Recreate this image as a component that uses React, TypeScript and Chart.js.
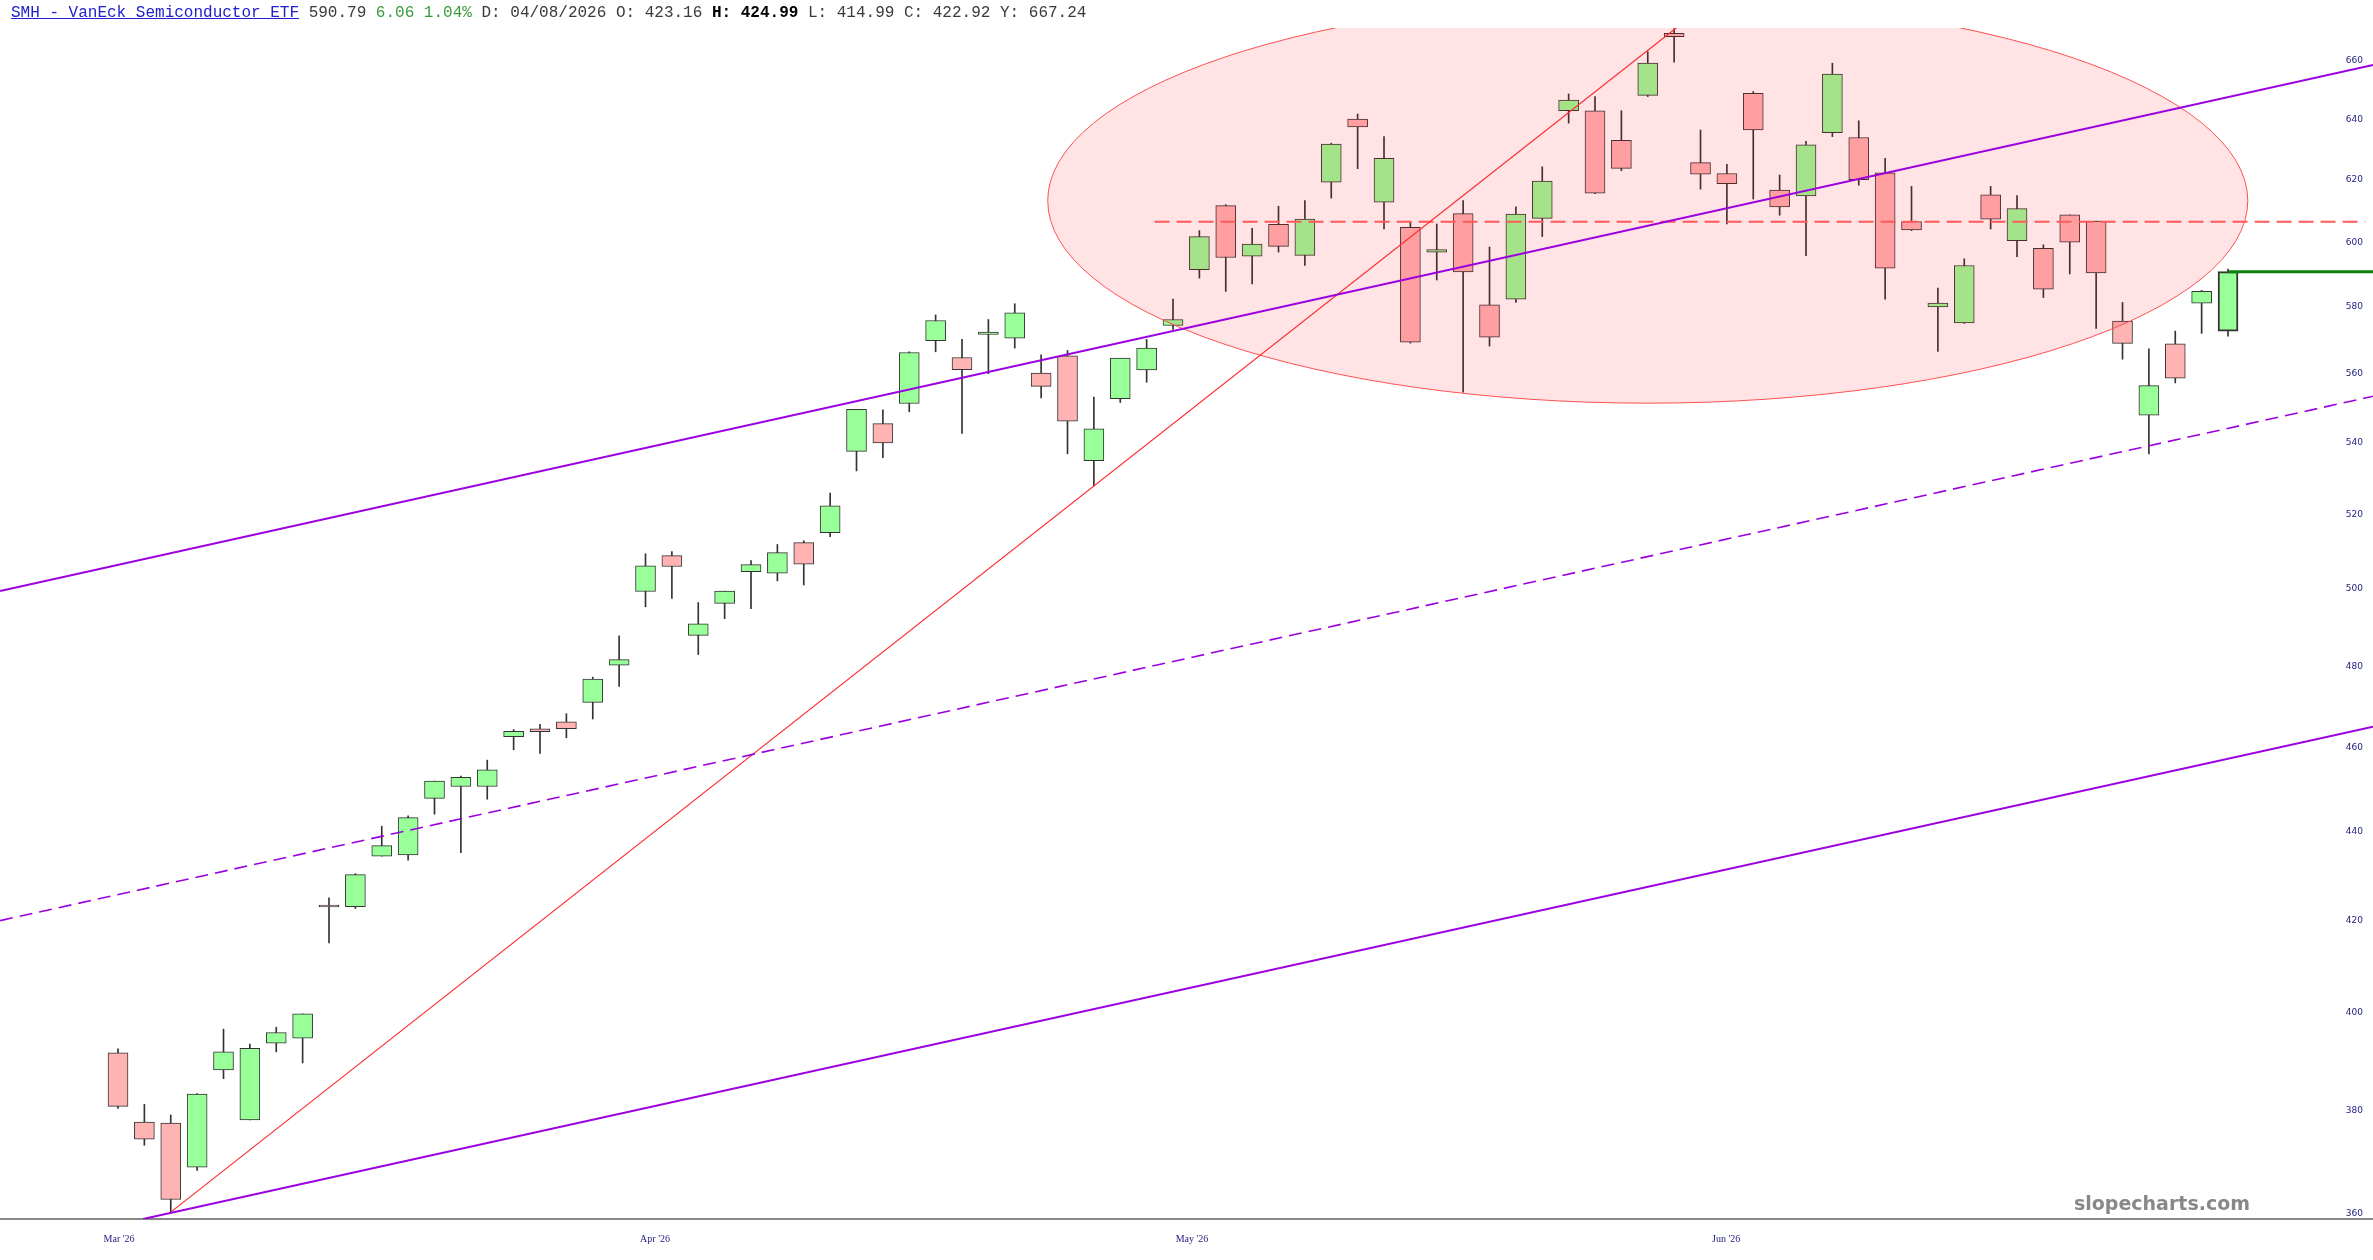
import React, { useEffect, useRef } from 'react';
import { Chart, registerables } from 'chart.js';

Chart.register(...registerables);

// daily OHLC (one entry per candle, left to right)
const opens = [
  391.7, 377.7, 377.5, 368.8, 388.2, 378.1, 393.7, 394.7, 423.16, 423.0,
  434.4, 434.7, 447.8, 450.6, 450.6, 462.6, 464.5, 466.2, 471.0, 480.3,
  499.3, 508.8, 487.9, 496.2, 504.5, 504.1, 512.3, 515.0, 537.5, 545.4,
  551.2, 569.7, 564.7, 571.6, 570.5, 560.1, 565.2, 534.9, 552.6, 561.0,
  574.3, 591.4, 611.7, 595.6, 605.7, 595.9, 619.3, 640.2, 612.8, 604.7,
  596.9, 609.1, 580.6, 582.3, 607.6, 643.0, 643.0, 633.1, 648.2, 669.7,
  625.7, 622.1, 648.9, 616.7, 614.8, 635.6, 634.0, 622.3, 606.6, 579.9,
  575.1, 615.2, 600.5, 598.1, 608.7, 606.7, 575.6, 547.8, 568.8, 581.1,
  572.6
];
const highs = [
  392.5, 381.2, 379.1, 383.4, 396.6, 393.5, 397.0, 399.8, 424.99, 430.4,
  441.3, 443.7, 451.9, 453.1, 456.9, 464.3, 465.6, 468.2, 477.3, 487.8,
  509.3, 509.9, 496.4, 499.4, 507.5, 511.8, 512.8, 525.8, 549.5, 549.4,
  566.4, 577.5, 570.1, 576.1, 580.9, 565.5, 566.8, 553.1, 564.5, 570.1,
  582.3, 603.7, 612.0, 604.4, 611.5, 613.3, 632.1, 641.9, 634.3, 606.6,
  605.8, 613.3, 598.5, 611.3, 624.3, 648.7, 647.8, 643.0, 663.3, 671.4,
  636.5, 625.1, 649.5, 621.6, 632.7, 659.3, 639.6, 627.1, 617.9, 585.7,
  594.8, 617.9, 614.9, 599.2, 608.7, 606.7, 581.3, 567.3, 572.6, 585.0,
  591.6
];
const lows = [
  380.4, 373.1, 360.0, 368.2, 386.4, 378.1, 391.9, 389.6, 414.99, 422.6,
  434.4, 433.5, 444.1, 435.2, 447.6, 459.4, 458.5, 462.3, 466.9, 475.0,
  495.3, 497.5, 483.0, 492.2, 494.8, 502.1, 501.0, 513.9, 532.0, 535.7,
  548.8, 566.4, 542.6, 559.9, 567.5, 552.8, 536.8, 527.8, 551.5, 557.4,
  573.1, 588.8, 584.7, 587.0, 596.9, 592.7, 614.1, 623.7, 604.2, 569.0,
  588.2, 554.5, 568.1, 581.3, 601.8, 638.8, 615.5, 623.0, 647.8, 659.6,
  617.0, 605.8, 613.8, 608.6, 595.8, 634.3, 618.3, 582.3, 603.7, 566.5,
  574.9, 604.2, 595.5, 582.8, 590.1, 573.4, 564.2, 536.8, 557.2, 571.9,
  571.1
];
const closes = [
  380.8, 374.3, 362.6, 383.3, 391.9, 392.6, 395.9, 399.8, 422.92, 430.2,
  436.8, 443.3, 451.9, 452.8, 454.6, 463.9, 463.8, 464.5, 476.8, 481.7,
  506.1, 505.9, 490.9, 499.4, 506.4, 509.6, 506.5, 522.3, 549.5, 539.9,
  566.2, 575.8, 561.1, 572.3, 578.1, 556.2, 546.1, 543.9, 564.5, 567.5,
  576.1, 601.8, 595.2, 599.4, 598.7, 607.4, 631.8, 637.5, 627.1, 569.3,
  597.7, 590.7, 570.8, 609.0, 619.6, 646.6, 615.7, 623.8, 659.3, 668.5,
  621.9, 618.8, 636.5, 611.3, 631.6, 655.5, 620.1, 591.9, 603.9, 581.1,
  592.7, 607.3, 610.7, 585.4, 600.0, 590.4, 568.9, 556.4, 558.6, 584.73,
  590.79
];

const monthLabels = ["Mar '26", "Apr '26", "May '26", "Jun '26"];
const monthTickAt = [0.04, 20.36, 40.72, 60.97];
const priceTicks = [360, 380, 400, 420, 440, 460, 480, 500, 520, 540, 560, 580, 600, 620, 640, 660];

// drawn studies, as [candle index, price] end points
const upperChannel = [[-4.47, 499.4], [85.5, 658.7]];
const midChannel = [[-4.47, 419.9], [85.5, 553.3]];
const lowerChannel = [[0.95, 358.9], [85.5, 465.0]];
const riseLine = [[2, 360.2], [60, 678.4]];
const resistance = [[39.3, 606.5], [85.2, 606.5]];
const lastPrice = [[80, 590.79], [85.5, 590.79]];
// shaded zone: left/right candle index, top/bottom price
const zoneX = [35.25, 80.75];
const zoneY = [682.2, 551.3];

const tickColor = '#1c1c7c';

const zonePlugin = {
  id: 'zone',
  afterDatasetDraw(chart, args) {
    if (args.index !== 1) return;
    const { ctx, chartArea, scales } = chart;
    const x1 = scales.x.getPixelForValue(zoneX[0]);
    const x2 = scales.x.getPixelForValue(zoneX[1]);
    const y1 = scales.y.getPixelForValue(zoneY[0]);
    const y2 = scales.y.getPixelForValue(zoneY[1]);
    ctx.save();
    ctx.beginPath();
    ctx.rect(chartArea.left, chartArea.top, chartArea.right - chartArea.left, chartArea.bottom - chartArea.top);
    ctx.clip();
    ctx.beginPath();
    ctx.ellipse((x1 + x2) / 2, (y1 + y2) / 2, (x2 - x1) / 2, (y2 - y1) / 2, 0, 0, Math.PI * 2);
    ctx.fillStyle = 'rgba(255, 0, 20, 0.11)';
    ctx.fill();
    ctx.strokeStyle = '#ff5050';
    ctx.lineWidth = 1;
    ctx.stroke();
    ctx.restore();
  }
};

function line(points, color, width, dash = []) {
  return {
    type: 'line',
    data: points.map(([x, y]) => ({ x, y })),
    borderColor: color,
    borderWidth: width,
    borderDash: dash,
    pointRadius: 0,
    fill: false,
    tension: 0,
    order: 1
  };
}

export default function App() {
  const canvas = useRef<HTMLCanvasElement | null>(null);

  useEffect(() => {
    const idx = opens.map((_, i) => i);
    const last = idx.length - 1;
    const chart = new Chart(canvas.current, {
      type: 'bar',
      data: {
        datasets: [
          {
            label: 'wicks',
            data: idx.map(i => ({ x: i, y: [lows[i], highs[i]] })),
            backgroundColor: '#333',
            borderWidth: 0,
            barThickness: 1,
            grouped: false,
            order: 3
          },
          {
            label: 'bodies',
            data: idx.map(i => ({ x: i, y: [opens[i], closes[i]] })),
            backgroundColor: idx.map(i => (closes[i] >= opens[i] ? '#99ff99' : '#ffb3b3')),
            borderColor: '#333',
            borderWidth: idx.map(i => (i === last ? 2 : 1)),
            borderSkipped: false,
            barThickness: 20,
            minBarLength: 2,
            grouped: false,
            order: 2
          },
          line(upperChannel, '#9b00de', 2),
          line(midChannel, '#9b00de', 1.6, [13, 7]),
          line(lowerChannel, '#9b00de', 2),
          line(riseLine, '#ff2a2a', 1.2),
          line(resistance, '#ff5a5a', 2, [15, 7]),
          line(lastPrice, '#0b800b', 3)
        ]
      },
      options: {
        animation: false,
        responsive: false,
        layout: { padding: { top: 28, left: 0, right: 0, bottom: 0 } },
        plugins: {
          legend: { display: false },
          tooltip: { enabled: false }
        },
        scales: {
          x: {
            type: 'linear',
            min: -4.474,
            max: 85.497,
            bounds: 'data',
            offset: false,
            grid: { display: false, drawTicks: false },
            border: { display: true, color: '#888', width: 2 },
            ticks: {
              autoSkip: false,
              maxRotation: 0,
              padding: 14,
              color: tickColor,
              font: { family: '"Liberation Serif", "Times New Roman", serif', size: 10 },
              callback: (v, i) => monthLabels[i]
            },
            afterBuildTicks: s => {
              s.ticks = monthTickAt.map(v => ({ value: v }));
            },
            afterFit: s => {
              s.height = 41;
            }
          },
          y: {
            type: 'logarithmic',
            position: 'right',
            min: 358.9,
            max: 671.6,
            bounds: 'data',
            grid: { display: false, drawTicks: false },
            border: { display: false },
            ticks: {
              mirror: true,
              padding: -10,
              color: tickColor,
              font: { family: '"DejaVu Sans", Verdana, sans-serif', size: 9 },
              callback: v => String(v)
            },
            afterBuildTicks: s => {
              s.ticks = priceTicks.map(v => ({ value: v }));
            },
            afterFit: s => {
              s.width = 0;
            }
          }
        }
      },
      plugins: [zonePlugin]
    });
    return () => {
      chart.destroy();
    };
  }, []);

  const mono = '"Liberation Mono", "Courier New", monospace';
  return (
    <div style={{ position: 'absolute', left: 0, top: 0, width: 2373, height: 1260, background: '#fff', overflow: 'hidden' }}>
      <canvas ref={canvas} width={2373} height={1260} style={{ width: 2373, height: 1260, display: 'block' }}></canvas>
      <div style={{ position: 'absolute', left: 11, top: 5, fontFamily: mono, fontSize: 16, lineHeight: '16px', color: '#3a3a3a', whiteSpace: 'pre' }}>
        <span style={{ color: '#2020d0', textDecoration: 'underline' }}>SMH - VanEck Semiconductor ETF</span>
        <span> 590.79 </span>
        <span style={{ color: '#3a9a3a' }}>6.06 1.04%</span>
        <span> D: 04/08/2026 O: 423.16 </span>
        <span style={{ color: '#000', fontWeight: 'bold' }}>H: 424.99</span>
        <span> L: 414.99 C: 422.92 Y: 667.24</span>
      </div>
      <div style={{ position: 'absolute', left: 2042, top: 1192, width: 240, textAlign: 'center', fontFamily: '"DejaVu Sans", Verdana, sans-serif', fontWeight: 'bold', fontSize: 19, lineHeight: '22px', color: '#888' }}>
        slopecharts.com
      </div>
    </div>
  );
}
